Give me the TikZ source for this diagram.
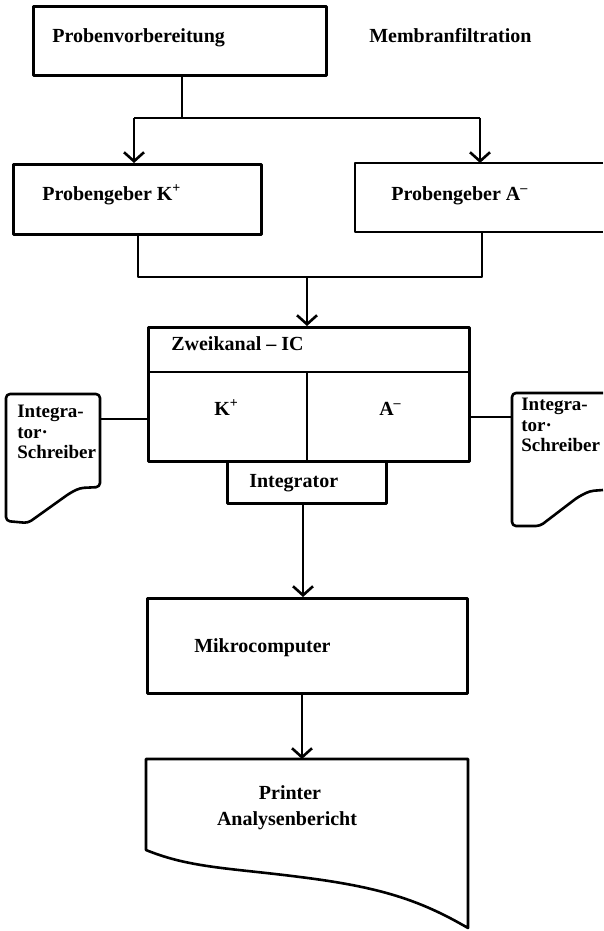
\documentclass[tikz,border=0pt]{standalone}
\usepackage{fontspec}
\setmainfont{Liberation Serif}
\usetikzlibrary{arrows.meta}
\begin{document}
\begin{tikzpicture}[x=1pt,y=-1pt, line width=2.6pt, line join=round,
  box/.style={draw, rectangle, inner sep=0pt, anchor=north west},
  lbl/.style={font=\bfseries\fontsize{20}{20}\selectfont, anchor=base west, inner sep=0pt},
  clbl/.style={font=\bfseries\fontsize{20}{20}\selectfont, anchor=base, inner sep=0pt},
  dlbl/.style={font=\bfseries\fontsize{19}{19}\selectfont, anchor=base west, inner sep=0pt},
  arr/.style={-{Straight Barb[length=9pt,width=20pt]}}]
\useasboundingbox (0,0) rectangle (603,931);

% Probenvorbereitung
\node[box, minimum width=293pt, minimum height=69pt] (pv) at (32,5) {};
\node[lbl] (pvt) at (51,43) {Probenvorbereitung};
\node[lbl] (mf) at (368,43) {Membranfiltration};

% split
\coordinate (j1) at (182,118);
\coordinate (jl) at (134,118);
\coordinate (jr) at (480,118);
\draw (pv.south -| j1) -- (j1);
\draw (jl) -- (jr);

% Probengeber K+
\node[box, minimum width=248pt, minimum height=70pt] (kp) at (12,163) {};
\node[lbl] (kpt) at (41,200) {Probengeber K\textsuperscript{+}};
\draw[arr] (jl) -- (jl |- kp.north);

% Probengeber A-
\coordinate (an) at (355,163);
\coordinate (as) at (355,232);
\draw (603,163) -- (an) -- (as) -- (603,232);
\node[lbl] (apt) at (390,200) {Probengeber A\textsuperscript{--}};
\draw[arr] (jr) -- (jr |- an);

% merge
\coordinate (k1) at (138,277);
\coordinate (a1) at (482,277);
\coordinate (m1) at (307,277);
\draw (kp.south -| k1) -- (k1) -- (a1) -- (a1 |- as);

% Zweikanal-IC
\node[box, minimum width=321pt, minimum height=134pt] (zk) at (147,326) {};
\draw[arr] (m1) -- (m1 |- zk.north);
\coordinate (d) at (307,372);
\draw (zk.west |- d) -- (zk.east |- d);
\draw (d) -- (d |- zk.south);
\node[lbl] (zkt) at (170,350) {Zweikanal -- IC};
\node[lbl] (zkk) at (213,415) {K\textsuperscript{+}};
\node[lbl] (zka) at (378,415) {A\textsuperscript{--}};

% Integrator
\node[box, minimum width=159pt, minimum height=42pt] (ig) at (226,460) {};
\node[lbl] (igt) at (248,487) {Integrator};

% Mikrocomputer
\node[box, minimum width=320pt, minimum height=95pt] (mk) at (146,597) {};
\node[lbl] (mkt) at (193,652) {Mikrocomputer};
\coordinate (i1) at (303,502);
\draw[arr] (i1) -- (i1 |- mk.north);

% Printer
\coordinate (prnw) at (146,759);
\coordinate (prne) at (468,759);
\draw (prnw) -- (prne) -- (468,928)
  .. controls (420,900) and (380,887) .. (300,877)
  .. controls (230,868) and (190,868) .. (146,850) -- cycle;
\node[clbl] (prt1) at (290,799) {Printer};
\node[clbl] (prt2) at (287,825) {Analysenbericht};
\coordinate (m2) at (302,692);
\draw[arr] (m2) -- (m2 |- prnw);

% left Integrator-Schreiber
\draw[rounded corners=4pt] (6,394) -- (100,394) -- (100,487) -- (80,488) -- (70,493) -- (28,523) -- (6,521) -- cycle;
\coordinate (ld) at (100,419);
\draw (ld) -- (ld -| zk.west);
\node[dlbl] (lt1) at (16,417) {Integra-};
\node[dlbl] (lt2) at (16,438) {tor·};
\node[dlbl] (lt3) at (16,458) {Schreiber};

% right Integrator-Schreiber
\coordinate (rd) at (512,417);
\draw[rounded corners=4pt] (603,393) -- (512,393) -- (512,526) -- (540,526) -- (578,497) -- (590,491) -- (603,490);
\draw (zk.east |- rd) -- (rd);
\node[dlbl] (rt1) at (520,410) {Integra-};
\node[dlbl] (rt2) at (520,431) {tor·};
\node[dlbl] (rt3) at (520,451) {Schreiber};
\end{tikzpicture}
\end{document}
